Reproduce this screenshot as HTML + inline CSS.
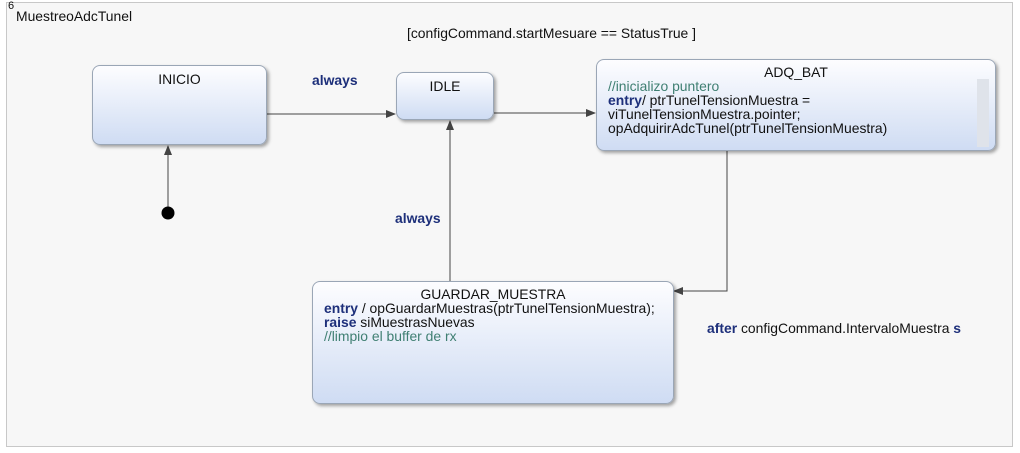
<!DOCTYPE html>
<html><head><style>
body{margin:0;width:1020px;height:453px;background:#fff;font-family:"Liberation Sans",sans-serif;font-size:13.9px;color:#111;position:relative;overflow:hidden}
.frame{position:absolute;left:6px;top:2px;width:1007px;height:445px;border:1px solid #c8c8c8;background:#f7f7f7;box-sizing:border-box}
.st{position:absolute;border:1px solid #9aa6b6;border-radius:8px;background:linear-gradient(#fdfdff,#cfdcf3);box-shadow:2px 2px 3px rgba(0,0,0,.35);box-sizing:border-box}
.t{position:absolute;white-space:nowrap}
.kw{color:#1d2f7a;font-weight:bold}
.cm{color:#3f7f72}
.title{text-align:center;padding-top:5px}
.body{padding:0 11px;line-height:14px}
</style></head><body>
<div class="frame"></div>
<div class="t" style="left:8px;top:0px;font-size:11px">6</div>
<div class="t" style="left:16px;top:8px">MuestreoAdcTunel</div>
<div class="t" style="left:407px;top:25px">[configCommand.startMesuare == StatusTrue ]</div>
<div class="t kw" style="left:312px;top:72px">always</div>
<div class="t kw" style="left:395px;top:210px">always</div>
<div class="t" style="left:707px;top:320px"><span class="kw">after</span> configCommand.IntervaloMuestra <span class="kw">s</span></div>

<svg width="1020" height="453" style="position:absolute;left:0;top:0">
<defs><marker id="a" markerWidth="10" markerHeight="8" refX="9" refY="4" orient="auto" markerUnits="userSpaceOnUse"><path d="M0,0 L10,4 L0,8z" fill="#444"/></marker></defs>
<g stroke="#444" stroke-width="1" fill="none">
<path d="M267,114 H395" marker-end="url(#a)"/>
<path d="M494,113 H595" marker-end="url(#a)"/>
<path d="M727,151 V291 H674" marker-end="url(#a)"/>
<path d="M450,281 V121" marker-end="url(#a)"/>
<path d="M168,207 V146" marker-end="url(#a)"/>
</g>
<circle cx="168" cy="213" r="6.5" fill="#000"/>
</svg>

<div class="st" style="left:92px;top:65px;width:175px;height:80px"><div class="title">INICIO</div></div>
<div class="st" style="left:396px;top:72px;width:98px;height:48px"><div class="title">IDLE</div></div>
<div class="st" style="left:596px;top:59px;width:400px;height:92px">
<div class="title" style="line-height:14px">ADQ_BAT</div>
<div class="body"><span class="cm">//inicializo puntero</span><br><span class="kw">entry</span>/ ptrTunelTensionMuestra =<br>viTunelTensionMuestra.pointer;<br>opAdquirirAdcTunel(ptrTunelTensionMuestra)</div>
<div style="position:absolute;right:6px;top:19px;width:12px;height:68px;background:#dfe3ea"></div>
</div>
<div class="st" style="left:312px;top:281px;width:362px;height:123px">
<div class="title" style="line-height:14px">GUARDAR_MUESTRA</div>
<div class="body"><span class="kw">entry</span> / opGuardarMuestras(ptrTunelTensionMuestra);<br><span class="kw">raise</span> siMuestrasNuevas<br><span class="cm">//limpio el buffer de rx</span></div>
</div>
</body></html>
